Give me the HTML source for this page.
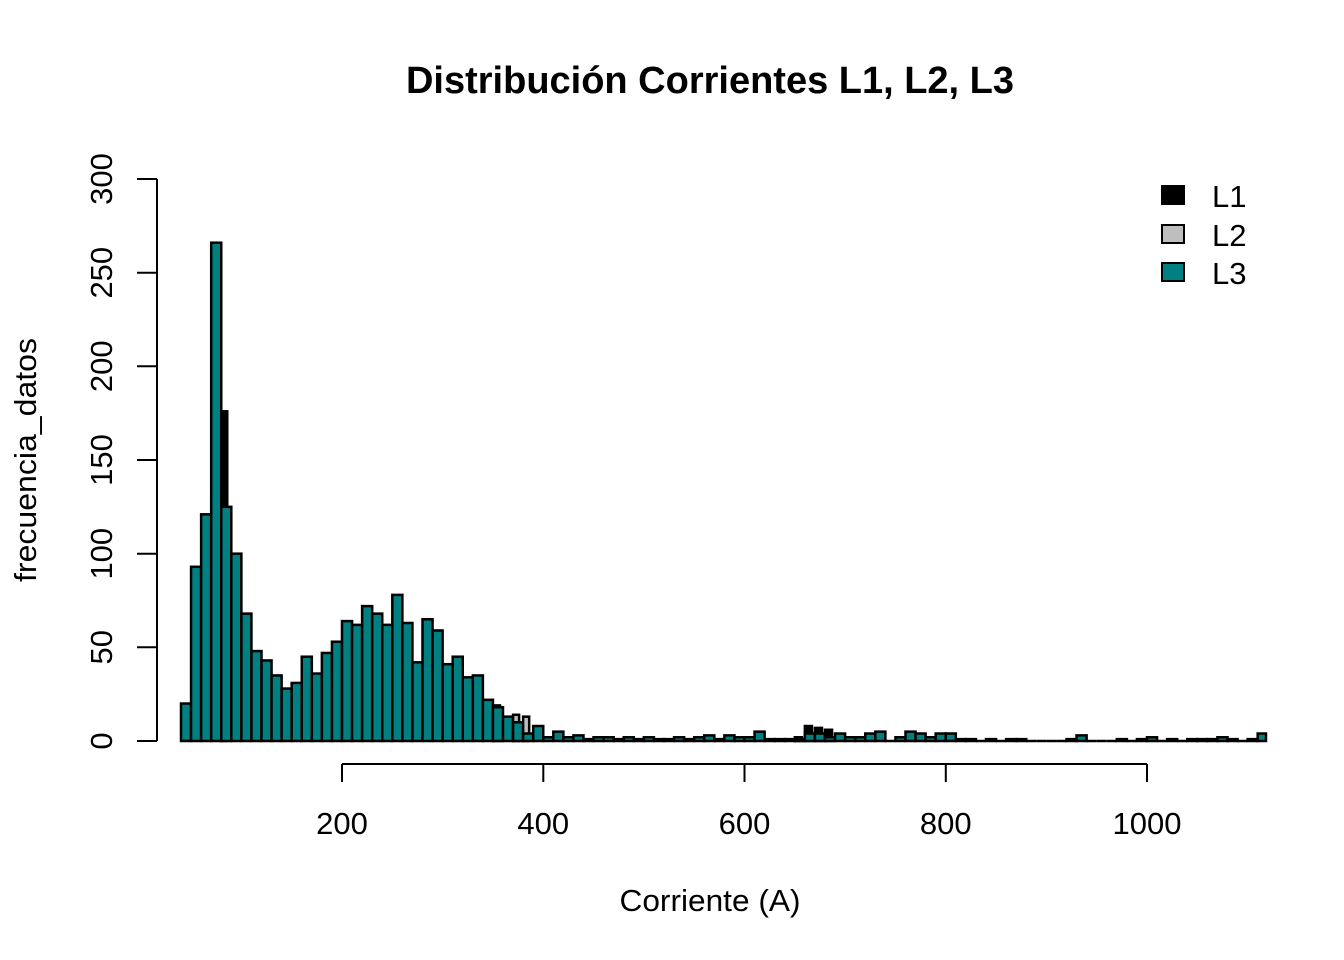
<!DOCTYPE html>
<html><head><meta charset="utf-8"><style>body{margin:0;background:#fff}svg{display:block}</style></head>
<body>
<svg id="s" width="1344" height="960" xmlns="http://www.w3.org/2000/svg" font-family="Liberation Sans, Arial, sans-serif">
<rect width="1344" height="960" fill="#fff"/>
<text x="710" y="93" font-size="38" font-weight="bold" text-anchor="middle" textLength="608" lengthAdjust="spacingAndGlyphs">Distribución Corrientes L1, L2, L3</text>
<g id="bars" stroke="#000" stroke-width="2.5"></g>
<line x1="157" y1="179" x2="157" y2="741" stroke="#000" stroke-width="2"/>
<g stroke="#000" stroke-width="2">
<line x1="137" y1="741" x2="157" y2="741"/><line x1="137" y1="647.3" x2="157" y2="647.3"/>
<line x1="137" y1="553.7" x2="157" y2="553.7"/><line x1="137" y1="460" x2="157" y2="460"/>
<line x1="137" y1="366.3" x2="157" y2="366.3"/><line x1="137" y1="272.7" x2="157" y2="272.7"/>
<line x1="137" y1="179" x2="157" y2="179"/>
<line x1="342" y1="764" x2="1147" y2="764"/>
<line x1="342" y1="764" x2="342" y2="782"/><line x1="543.3" y1="764" x2="543.3" y2="782"/>
<line x1="744.5" y1="764" x2="744.5" y2="782"/><line x1="945.8" y1="764" x2="945.8" y2="782"/>
<line x1="1147" y1="764" x2="1147" y2="782"/>
</g>
<g font-size="31" text-anchor="middle">
<text transform="translate(112,741) rotate(-90)">0</text>
<text transform="translate(112,647.3) rotate(-90)">50</text>
<text transform="translate(112,553.7) rotate(-90)">100</text>
<text transform="translate(112,460) rotate(-90)">150</text>
<text transform="translate(112,366.3) rotate(-90)">200</text>
<text transform="translate(112,272.7) rotate(-90)">250</text>
<text transform="translate(112,179) rotate(-90)">300</text>
<text x="342" y="834">200</text><text x="543.3" y="834">400</text><text x="744.5" y="834">600</text>
<text x="945.8" y="834">800</text><text x="1147" y="834">1000</text>
<text x="710" y="911" textLength="181" lengthAdjust="spacingAndGlyphs">Corriente (A)</text>
<text transform="translate(36,460) rotate(-90)" textLength="244" lengthAdjust="spacingAndGlyphs">frecuencia_datos</text>
</g>
<rect x="1162" y="186" width="22" height="18" fill="#000" stroke="#000" stroke-width="2"/>
<rect x="1162" y="225" width="22" height="18" fill="#bebebe" stroke="#000" stroke-width="2"/>
<rect x="1162" y="263" width="22" height="18" fill="#008080" stroke="#000" stroke-width="2"/>
<g font-size="31"><text x="1212" y="207">L1</text><text x="1212" y="246">L2</text><text x="1212" y="284">L3</text></g>
</svg>
<script>
var t=[20,93,121,266,125,100,68,48,43,35,28,31,45,36,47,53,64,62,72,68,62,78,63,42,65,59,41,45,34,35,22,18,13,10,4,8,
2,5,2,3,1,2,2,1,2,1,2,1,1,2,1,2,3,1,3,2,2,5,1,1,1,1,4,4,2,4,2,2,4,5,0,2,5,4,2,4,4,1,1,0,1,0,1,1,0,0,0,0,1,3,0,0,0,1,0,1,2,0,1,0,1,1,1,2,1,0,1,4];
var b={4:176,31:19,62:8,63:7,64:6,61:2};var g={33:14,34:13};
var G=document.getElementById('bars'),s='';
function Y(v){return 741-v*1.8733}
for(var k=0;k<t.length;k++){var x=181+k*10.0625,w=10.0625;if(x+w>1266)w=1266-x;
if(b[k]){var bx=k==4?x:x,bw=k==4?6:w*0.7;s+='<rect x="'+bx+'" y="'+Y(b[k])+'" width="'+bw+'" height="'+b[k]*1.8733+'" fill="#000"/>';}
if(g[k])s+='<rect x="'+x+'" y="'+Y(g[k])+'" width="'+(w*0.6)+'" height="'+g[k]*1.8733+'" fill="#bebebe"/>';
if(t[k]>0)s+='<rect x="'+x+'" y="'+Y(t[k])+'" width="'+w+'" height="'+t[k]*1.8733+'" fill="#008080"/>';
else s+='<line x1="'+x+'" y1="741" x2="'+(x+w)+'" y2="741"/>';}
G.innerHTML=s;
</script>
</body></html>
